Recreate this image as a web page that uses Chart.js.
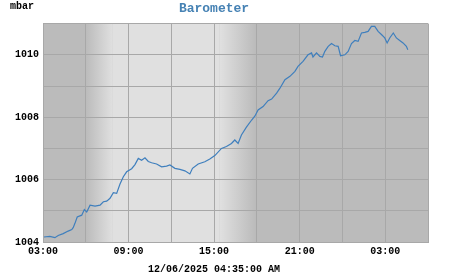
<!DOCTYPE html>
<html>
<head>
<meta charset="utf-8">
<script src="https://cdn.jsdelivr.net/npm/chart.js@4/dist/chart.umd.min.js"></script>
<style>
  html, body { margin: 0; padding: 0; background: #ffffff; }
  #wrap { width: 451px; height: 275px; }
</style>
</head>
<body>
<div id="wrap"><canvas id="myChart" width="451" height="275"></canvas></div>
<script>
// chart text
const chartTitle = 'Barometer';
const unitLabel = 'mbar';
const stampLabel = '12/06/2025 04:35:00 AM';

// axis range: 03:00 to 06:00 next day (hours after start), pressure in mbar
const startHour = 3;
const spanHours = 27;
const yTicks = [1004, 1005, 1006, 1007, 1008, 1009, 1010, 1011];

// twilight bands (hours after start): dawn fade, dusk fade
const dawnHours = [3.0, 4.9];
const duskHours = [12.4, 14.9];

// readings
const times = [
    '03:04', '03:29', '03:50', '04:04', '04:25', '04:46', '05:01', '05:07', '05:14', '05:24',
    '05:43', '05:54', '06:04', '06:18', '06:39', '07:00', '07:14', '07:28', '07:42', '07:56',
    '08:10', '08:24', '08:38', '08:52', '09:13', '09:27', '09:41', '09:55', '10:09', '10:23',
    '10:37', '10:58', '11:19', '11:40', '11:54', '12:15', '12:36', '12:57', '13:18', '13:29',
    '13:53', '14:21', '14:42', '15:03', '15:31', '15:52', '16:13', '16:27', '16:41', '16:55',
    '17:16', '17:38', '17:52', '18:05', '18:26', '18:47', '19:02', '19:23', '19:37', '19:58',
    '20:19', '20:40', '20:53', '21:14', '21:35', '21:50', '21:56', '22:11', '22:25', '22:36',
    '22:46', '23:00', '23:14', '23:28', '23:42', '23:52', '00:10', '00:24', '00:38', '00:52',
    '01:06', '01:20', '01:34', '01:48', '02:02', '02:16', '02:30', '02:44', '02:58', '03:08',
    '03:19', '03:34', '03:47', '04:01', '04:15', '04:29', '04:35'
];
const pressures = [
    1004.16, 1004.18, 1004.14, 1004.21, 1004.27, 1004.35, 1004.40, 1004.46, 1004.59, 1004.80,
    1004.86, 1005.04, 1004.96, 1005.18, 1005.15, 1005.18, 1005.29, 1005.31, 1005.40, 1005.58,
    1005.56, 1005.86, 1006.09, 1006.25, 1006.35, 1006.48, 1006.68, 1006.62, 1006.70, 1006.58,
    1006.54, 1006.50, 1006.41, 1006.43, 1006.47, 1006.36, 1006.33, 1006.28, 1006.18, 1006.36,
    1006.50, 1006.57, 1006.66, 1006.77, 1007.00, 1007.06, 1007.16, 1007.27, 1007.16, 1007.43,
    1007.68, 1007.91, 1008.04, 1008.23, 1008.34, 1008.53, 1008.58, 1008.77, 1008.93, 1009.20,
    1009.31, 1009.47, 1009.63, 1009.79, 1010.00, 1010.06, 1009.93, 1010.06, 1009.95, 1009.93,
    1010.11, 1010.27, 1010.36, 1010.29, 1010.27, 1009.97, 1010.00, 1010.11, 1010.36, 1010.46,
    1010.43, 1010.70, 1010.72, 1010.75, 1010.91, 1010.91, 1010.75, 1010.65, 1010.54, 1010.38,
    1010.54, 1010.70, 1010.54, 1010.46, 1010.38, 1010.27, 1010.16
];

const monoFont = "'Courier New', 'Liberation Mono', monospace";
const nightColor = '#bbbbbb';
const dayColor = '#e0e0e0';

// turns clock times into hours after the start, rolling over midnight
function toHours(list) {
    let prev = -1;
    let extra = 0;
    return list.map(function(t) {
        const parts = t.split(':');
        let h = Number(parts[0]) + Number(parts[1]) / 60 - startHour;
        if (h < 0) h += 24;
        h += extra;
        if (h < prev) { extra += 24; h += 24; }
        prev = h;
        return h;
    });
}

const hours = toHours(times);
const points = hours.map(function(h, i) { return { x: h, y: pressures[i] }; });

// paints night / day shading behind the grid
const shadePlugin = {
    id: 'shade',
    beforeDraw: function(chart) {
        const ctx = chart.ctx;
        const area = chart.chartArea;
        const xs = chart.scales.x;
        const h = area.bottom - area.top;
        const d0 = xs.getPixelForValue(dawnHours[0]);
        const d1 = xs.getPixelForValue(dawnHours[1]);
        const k0 = xs.getPixelForValue(duskHours[0]);
        const k1 = xs.getPixelForValue(duskHours[1]);
        ctx.save();
        ctx.fillStyle = nightColor;
        ctx.fillRect(area.left, area.top, area.right - area.left, h);
        let g = ctx.createLinearGradient(d0, 0, d1, 0);
        g.addColorStop(0, nightColor);
        g.addColorStop(1, dayColor);
        ctx.fillStyle = g;
        ctx.fillRect(d0, area.top, d1 - d0, h);
        ctx.fillStyle = dayColor;
        ctx.fillRect(d1, area.top, k0 - d1, h);
        g = ctx.createLinearGradient(k0, 0, k1, 0);
        g.addColorStop(0, dayColor);
        g.addColorStop(1, nightColor);
        ctx.fillStyle = g;
        ctx.fillRect(k0, area.top, k1 - k0, h);
        ctx.restore();
    },
    afterDraw: function(chart) {
        const ctx = chart.ctx;
        ctx.save();
        ctx.font = 'bold 10px ' + monoFont;
        ctx.fillStyle = '#000000';
        ctx.textBaseline = 'alphabetic';
        ctx.textAlign = 'left';
        ctx.fillText(unitLabel, 10, 9);
        ctx.restore();
    }
};

const ctx = document.getElementById('myChart').getContext('2d');
new Chart(ctx, {
    type: 'line',
    data: {
        datasets: [{
            label: chartTitle,
            data: points,
            borderColor: '#3f7fbd',
            borderWidth: 1.2,
            pointRadius: 0,
            tension: 0,
            fill: false
        }]
    },
    options: {
        responsive: false,
        animation: false,
        layout: { padding: { left: 0, right: 23, top: 0, bottom: 0 } },
        plugins: {
            legend: { display: false },
            tooltip: { enabled: false },
            title: {
                display: true,
                text: chartTitle,
                color: '#4682b4',
                font: { family: monoFont, size: 13, weight: 'bold' },
                padding: { top: 1, bottom: 7 }
            },
            subtitle: {
                display: true,
                position: 'bottom',
                text: stampLabel,
                color: '#000000',
                font: { family: monoFont, size: 10, weight: 'bold' },
                padding: { top: 3, bottom: 0 }
            }
        },
        scales: {
            x: {
                type: 'linear',
                min: 0,
                max: spanHours,
                grid: { color: '#a8a8a8', lineWidth: 1, drawTicks: false },
                border: { color: '#a8a8a8' },
                ticks: {
                    stepSize: 3,
                    padding: 3,
                    maxRotation: 0,
                    autoSkip: false,
                    color: '#000000',
                    font: { family: monoFont, size: 10, weight: 'bold' },
                    callback: function(v) {
                        if (v % 6 !== 0 || v === spanHours) return '';
                        const hh = (v + startHour) % 24;
                        return (hh < 10 ? '0' : '') + hh + ':00';
                    }
                }
            },
            y: {
                min: yTicks[0],
                max: yTicks[yTicks.length - 1],
                afterFit: function(scale) { scale.width = 43; },
                grid: { color: '#a8a8a8', lineWidth: 1, drawTicks: false },
                border: { color: '#a8a8a8' },
                afterBuildTicks: function(scale) {
                    scale.ticks = yTicks.map(function(v) { return { value: v }; });
                },
                ticks: {
                    padding: 4,
                    color: '#000000',
                    font: { family: monoFont, size: 10, weight: 'bold' },
                    callback: function(v) { return v % 2 === 0 ? String(v) : ''; }
                }
            }
        }
    },
    plugins: [shadePlugin]
});
</script>
</body>
</html>
